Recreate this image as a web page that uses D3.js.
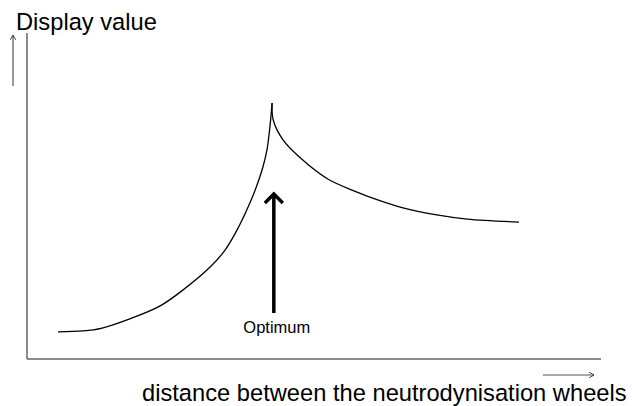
<!DOCTYPE html>
<html>
  <head>
    <meta charset="utf-8">
    <title></title>
    <script type="text/javascript" src="https://d3js.org/d3.v7.min.js"></script>
    <style media="screen">
      body { margin: 0; background: #fff; }
      text { font-family: "Liberation Sans", Arial, sans-serif; fill: #000; }
    </style>
  </head>
  <body>
    <div class="vis">
    </div>
    <script type="text/javascript">
      // rising branch up to the optimum, then falling branch
      var riseX = [5.4, 9.8, 13.1, 17.9, 23.2, 27.2, 31.9, 34.5, 36.6, 39.2, 40.2, 41.1, 41.8, 42.3, 42.7];
      var riseY = [8.3, 8.6, 9.5, 12.3, 16.3, 21.2, 28.2, 33.4, 39.6, 49.4, 54.0, 58.9, 64.1, 70.9, 78.5];
      var fallX = [42.7, 42.9, 44.6, 47.6, 52.4, 57.5, 60.6, 65.0, 71.4, 76.7, 85.7];
      var fallY = [78.5, 73.3, 67.2, 61.7, 55.2, 51.2, 49.1, 46.6, 44.2, 42.9, 42.0];
      var optimumX = 43.0;
      var optimumY = [14.1, 50.6];
      var yLabel = "Display value";
      var xLabel = "distance between the neutrodynisation wheels";
      var optimumLabel = "Optimum";

      var w = 632;
      var h = 406;

      var xscale = d3.scaleLinear().domain([0, 100]).range([27, 601]);
      var yscale = d3.scaleLinear().domain([0, 100]).range([359, 33]);

      var svg = d3.select('.vis')
        .append('svg')
        .attr('width', w)
        .attr('height', h);

      var defs = svg.append('defs');
      defs.append('marker')
        .attr('id', 'thin')
        .attr('viewBox', '0 0 10 10')
        .attr('refX', 9).attr('refY', 5)
        .attr('markerWidth', 7).attr('markerHeight', 7)
        .attr('markerUnits', 'userSpaceOnUse')
        .attr('orient', 'auto')
        .append('path')
        .attr('d', 'M2,1 L9,5 L2,9')
        .attr('fill', 'none')
        .attr('stroke', '#333')
        .attr('stroke-width', 1.3);
      defs.append('marker')
        .attr('id', 'thick')
        .attr('viewBox', '0 0 20 20')
        .attr('refX', 17).attr('refY', 10)
        .attr('markerWidth', 20).attr('markerHeight', 20)
        .attr('markerUnits', 'userSpaceOnUse')
        .attr('orient', 'auto')
        .append('path')
        .attr('d', 'M8,1 L17,10 L8,19')
        .attr('fill', 'none')
        .attr('stroke', '#000')
        .attr('stroke-width', 3.5);

      // axes as plain lines
      svg.append('line')
        .attr('x1', xscale(0)).attr('y1', yscale(100))
        .attr('x2', xscale(0)).attr('y2', yscale(0))
        .attr('stroke', '#666').attr('stroke-width', 1.5);
      svg.append('line')
        .attr('x1', xscale(0)).attr('y1', yscale(0))
        .attr('x2', xscale(100)).attr('y2', yscale(0))
        .attr('stroke', '#666').attr('stroke-width', 1.5);

      // direction arrows
      svg.append('line')
        .attr('x1', 13).attr('y1', 86)
        .attr('x2', 13).attr('y2', 35)
        .attr('stroke', '#555').attr('stroke-width', 1.2)
        .attr('marker-end', 'url(#thin)');
      svg.append('line')
        .attr('x1', 543).attr('y1', 375)
        .attr('x2', 594).attr('y2', 375)
        .attr('stroke', '#555').attr('stroke-width', 1.2)
        .attr('marker-end', 'url(#thin)');

      var line = d3.line()
        .x(function(d){ return xscale(d[0]); })
        .y(function(d){ return yscale(d[1]); })
        .curve(d3.curveCatmullRom.alpha(0.5));

      svg.append('path')
        .datum(d3.zip(riseX, riseY))
        .attr('d', line)
        .attr('fill', 'none')
        .attr('stroke', '#000')
        .attr('stroke-width', 1.3);
      svg.append('path')
        .datum(d3.zip(fallX, fallY))
        .attr('d', line)
        .attr('fill', 'none')
        .attr('stroke', '#000')
        .attr('stroke-width', 1.3);

      // optimum arrow
      svg.append('line')
        .attr('x1', xscale(optimumX)).attr('y1', yscale(optimumY[0]))
        .attr('x2', xscale(optimumX)).attr('y2', yscale(optimumY[1]))
        .attr('stroke', '#000').attr('stroke-width', 3.5)
        .attr('marker-end', 'url(#thick)');
      svg.append('text')
        .attr('x', xscale(optimumX) + 3)
        .attr('y', 333)
        .attr('text-anchor', 'middle')
        .style('font-size', '16.5px')
        .text(optimumLabel);

      svg.append('text')
        .attr('x', 16).attr('y', 30)
        .style('font-size', '23.7px')
        .text(yLabel);
      svg.append('text')
        .attr('x', 142).attr('y', 401)
        .style('font-size', '23.7px')
        .text(xLabel);
    </script>
  </body>
</html>
